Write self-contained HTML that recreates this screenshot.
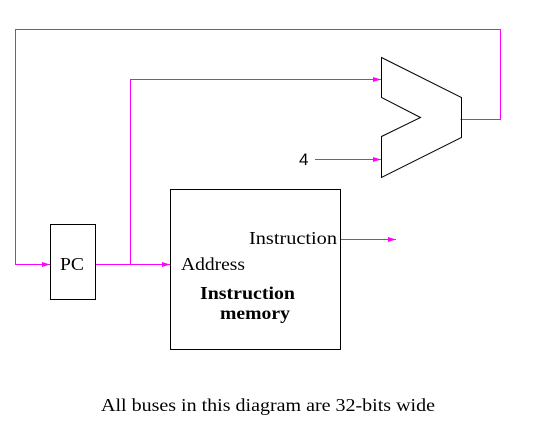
<!DOCTYPE html>
<html><head><style>body{margin:0;background:#fff}svg{display:block}</style></head><body>
<svg width="537" height="428" viewBox="0 0 537 428" xmlns="http://www.w3.org/2000/svg">
<defs><marker id="a" markerWidth="8" markerHeight="6" refX="8" refY="3" orient="auto" markerUnits="userSpaceOnUse"><path d="M0,0.5 L8,3 L0,5.5 Z" fill="#f0f"/></marker></defs>
<g stroke="#f0f" stroke-width="1" fill="none">
<polyline points="460.5,119.5 500.5,119.5 500.5,29.5 15.5,29.5 15.5,264.5 50,264.5" marker-end="url(#a)"/>
<polyline points="95,264.5 170,264.5" marker-end="url(#a)"/>
<polyline points="130.5,264.5 130.5,79.5 381,79.5" marker-end="url(#a)"/>
<polyline points="315,159.5 381,159.5" marker-end="url(#a)"/>
<polyline points="340,239.5 396,239.5" marker-end="url(#a)"/>
</g>
<g stroke="#000" stroke-width="1" fill="none">
<rect x="50.5" y="224.5" width="45" height="75"/>
<rect x="170.5" y="189.5" width="170" height="160"/>
<polygon points="381.5,57.5 461.5,97.5 461.5,137.5 381.5,177.5 381.5,136.5 420.5,117.5 381.5,97.5"/>
</g>
<g font-family="Liberation Serif, serif" font-size="18" fill="#000" lengthAdjust="spacingAndGlyphs">
<text x="60" y="270" textLength="24" lengthAdjust="spacingAndGlyphs">PC</text>
<text x="181" y="270" textLength="64" lengthAdjust="spacingAndGlyphs">Address</text>
<text x="249" y="244" textLength="88" lengthAdjust="spacingAndGlyphs">Instruction</text>
<text x="200" y="299" font-weight="bold" textLength="95" lengthAdjust="spacingAndGlyphs">Instruction</text>
<text x="220" y="319" font-weight="bold" textLength="70" lengthAdjust="spacingAndGlyphs">memory</text>
<text x="101" y="411" textLength="334" lengthAdjust="spacingAndGlyphs">All buses in this diagram are 32-bits wide</text>
</g>
<text x="299" y="165" font-family="Liberation Sans, sans-serif" font-size="17">4</text>
</svg>
</body></html>
